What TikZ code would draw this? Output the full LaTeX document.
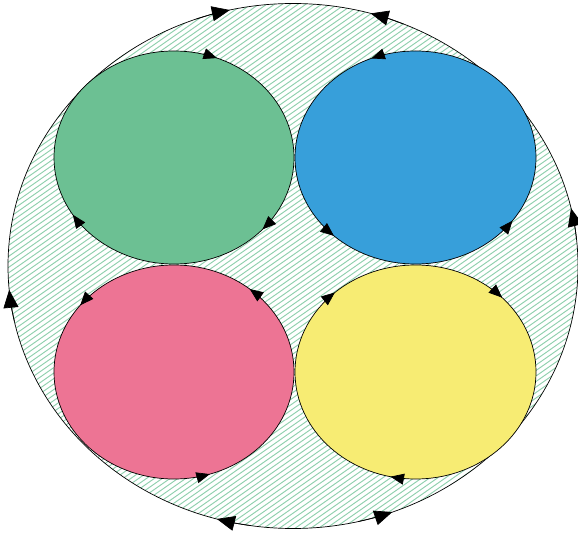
\documentclass[tikz,border=0pt]{standalone}
\usetikzlibrary{arrows.meta}
\definecolor{cgreen}{HTML}{6CC093}
\definecolor{cblue}{HTML}{379FDA}
\definecolor{cpink}{HTML}{ED7494}
\definecolor{cyellow}{HTML}{F7EC73}
\definecolor{chatch}{HTML}{8FD0AD}
\tikzset{
  hatchline/.style={draw=chatch, line width=0.95pt},
  rim/.style={draw=black, line width=0.7pt},
  bigtip/.style={-{Triangle[length=18pt,width=15pt]}, draw=black, line width=0.7pt},
  smalltip/.style={-{Triangle[length=13.5pt,width=11pt]}, draw=black, line width=0.7pt}
}
% #1 centre, #2 rx, #3 ry, #4 angle, #5 direction (+1 ccw, -1 cw), #6 style
\newcommand\mytip[6]{%
  \draw[#6] (#1) ++({#4-4*(#5)}:#2 and #3)
    arc[start angle={#4-4*(#5)}, end angle={#4+3*(#5)}, x radius=#2, y radius=#3];}
\begin{document}
\begin{tikzpicture}[x=1pt,y=1pt]
\useasboundingbox (0,0) rectangle (578,533);
\coordinate (O) at (293,267);
\coordinate (G) at (174,375.5);
\coordinate (B) at (415.5,375.5);
\coordinate (P) at (174,161);
\coordinate (Y) at (415.5,161);
% hatched outer region
\begin{scope}
  \clip (O) ellipse [x radius=285, y radius=262.5];
  \begin{scope}[shift={(O)}, rotate=35]
    \foreach \i in {-80,...,80} \draw[hatchline] (-700,\i*4.5) -- (700,\i*4.5);
  \end{scope}
\end{scope}
\draw[rim] (O) ellipse [x radius=285, y radius=262.5];
% inner ellipses
\draw[rim, fill=cgreen]  (G) ellipse [x radius=120, y radius=106.5];
\draw[rim, fill=cblue]   (B) ellipse [x radius=120.5, y radius=106.5];
\draw[rim, fill=cpink]   (P) ellipse [x radius=120, y radius=107];
\draw[rim, fill=cyellow] (Y) ellipse [x radius=120.5, y radius=107];
% outer arrows
\mytip{O}{285}{262.5}{105.8}{-1}{bigtip}
\mytip{O}{285}{262.5}{188.2}{-1}{bigtip}
\mytip{O}{285}{262.5}{257.5}{-1}{bigtip}
\mytip{O}{285}{262.5}{71.2}{1}{bigtip}
\mytip{O}{285}{262.5}{9.7}{1}{bigtip}
\mytip{O}{285}{262.5}{287.4}{1}{bigtip}
% green (cw)
\mytip{G}{120}{106.5}{72}{-1}{smalltip}
\mytip{G}{120}{106.5}{215.5}{-1}{smalltip}
\mytip{G}{120}{106.5}{320.5}{-1}{smalltip}
% blue (ccw)
\mytip{B}{120.5}{106.5}{108.5}{1}{smalltip}
\mytip{B}{120.5}{106.5}{224.4}{1}{smalltip}
\mytip{B}{120.5}{106.5}{320.6}{1}{smalltip}
% pink (ccw)
\mytip{P}{120}{107}{138.4}{1}{smalltip}
\mytip{P}{120}{107}{47.9}{1}{smalltip}
\mytip{P}{120}{107}{284.4}{1}{smalltip}
% yellow (cw)
\mytip{Y}{120.5}{107}{135}{-1}{smalltip}
\mytip{Y}{120.5}{107}{47}{-1}{smalltip}
\mytip{Y}{120.5}{107}{261}{-1}{smalltip}
\end{tikzpicture}
\end{document}
